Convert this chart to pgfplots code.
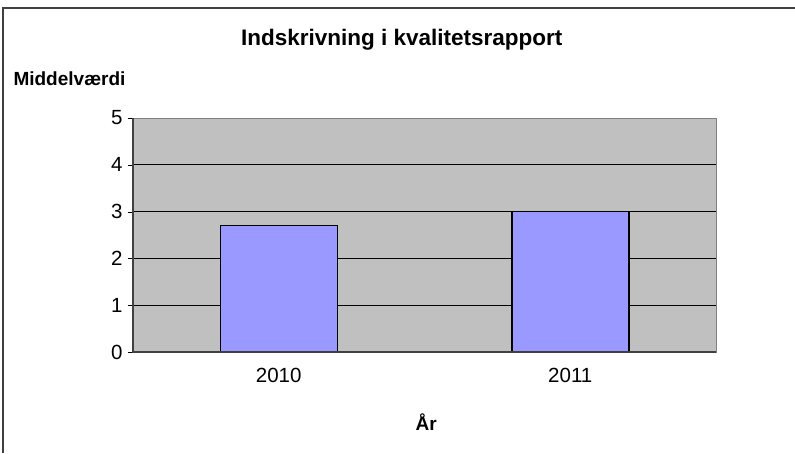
\documentclass[border=0pt]{standalone}
\usepackage{pgfplots}
\pgfplotsset{compat=1.18}
\usepackage{fontspec}
\setmainfont{Liberation Sans}
\definecolor{plotgray}{HTML}{C0C0C0}
\definecolor{barblue}{HTML}{9999FF}
\definecolor{axisdark}{HTML}{404040}

\begin{document}
\begin{tikzpicture}
\useasboundingbox (0,0) rectangle (795pt,453pt);
% outer chart frame (only left and top edges are visible)
\draw[line width=1.2pt, axisdark] (3pt,0) -- (3pt,445pt) -- (795pt,445pt);
\begin{axis}[
    at={(133pt,101pt)}, anchor=south west,
    scale only axis,
    width=583pt, height=234pt,
    xmin=-0.5, xmax=1.5,
    ymin=0, ymax=5,
    ytick={0,1,2,3,4,5},
    xtick={0,1},
    xticklabels={2010,2011},
    xtick pos=bottom, ytick pos=left,
    major x tick style={draw=none},
    extra x ticks={-0.5,0.5,1.5},
    extra x tick labels={},
    extra x tick style={major tick length=5pt, tick style={black}},
    tick align=outside,
    major tick length=5pt,
    ymajorgrids,
    grid style={black, line width=0.7pt},
    axis background/.style={fill=plotgray},
    axis line style={line width=1pt, gray},
    ytick style={black},
    /pgf/number format/assume math mode=true,
    ticklabel style={font=\fontsize{20.5}{22}\selectfont},
    yticklabel style={xshift=-2pt},
    xticklabel style={yshift=-8pt},
    title={\textbf{Indskrivning i kvalitetsrapport}},
    title style={at={(axis description cs:0.461,1.31)}, anchor=center, font=\fontsize{22.5}{25}\selectfont},
    xlabel={\textbf{År}},
    xlabel style={at={(axis description cs:0.503,-0.30)}, anchor=center, font=\fontsize{19}{22}\selectfont},
    ylabel={\textbf{Middelværdi}},
    ylabel style={at={(axis description cs:-0.211,1.17)}, anchor=west, rotate=-90, font=\fontsize{19}{22}\selectfont},
    clip=false,
]
\addplot[ybar, bar width=117pt, fill=barblue, draw=black, line width=1.5pt] coordinates {
    (0,2.7) (1,3.0)
};
% darker left and bottom axis lines
\draw[axisdark, line width=1.2pt] (rel axis cs:0,1) -- (rel axis cs:0,0) -- (rel axis cs:1,0);
\end{axis}
\end{tikzpicture}
\end{document}
